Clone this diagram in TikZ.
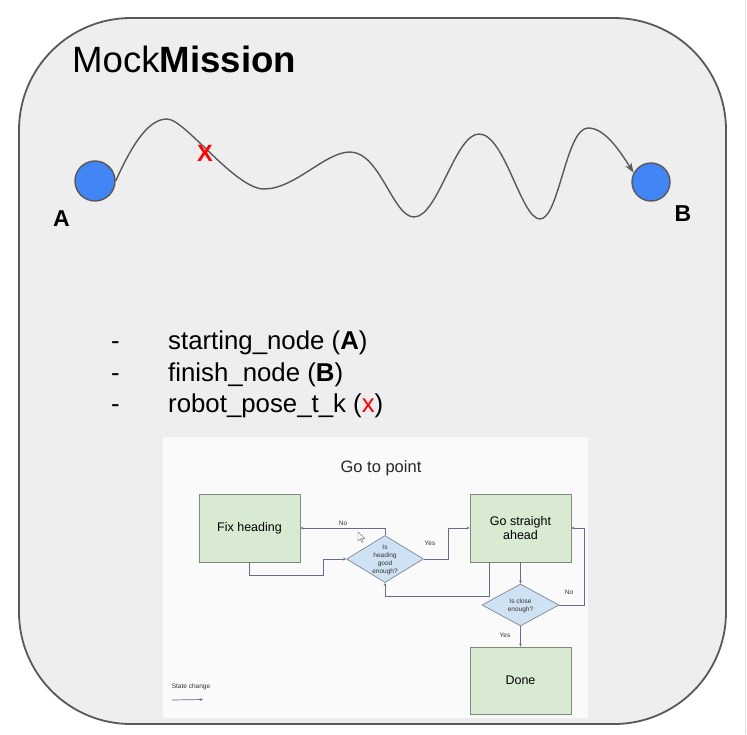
\documentclass[tikz,border=0pt]{standalone}
\usepackage{fontspec}
\setmainfont{Liberation Sans}
\usetikzlibrary{shapes.geometric,arrows.meta,calc}
\definecolor{edge}{HTML}{595959}
\definecolor{panel}{HTML}{EEEEEE}
\definecolor{gblue}{HTML}{4285F4}
\definecolor{boxgreen}{HTML}{D9EAD3}
\definecolor{boxline}{HTML}{7E8A7B}
\definecolor{diablue}{HTML}{CFE2F3}
\definecolor{dialine}{HTML}{7C8896}
\definecolor{connc}{HTML}{6A6A8E}
\definecolor{shotbg}{HTML}{FAFAFA}
\tikzset{
  dot/.style={circle,draw=edge,line width=1.4pt,fill=gblue,inner sep=0pt},
  path curve/.style={draw=edge,line width=1.4pt},
  bigtext/.style={inner sep=0pt,anchor=base west,font=\fontsize{25.8}{30}\selectfont},
  statebox/.style={rectangle,draw=boxline,line width=0.7pt,fill=boxgreen,minimum width=101pt,minimum height=68pt,inner sep=0pt,align=center,font=\fontsize{12.5}{14}\selectfont},
  decision/.style={diamond,draw=dialine,line width=0.7pt,fill=diablue,inner sep=0pt},
  smalltext/.style={inner sep=0pt,align=center,font=\fontsize{6.5}{8.2}\selectfont,text=black!80},
  conn/.style={draw=connc,line width=0.7pt,-{Stealth[length=3pt,width=2.6pt]}},
}
\begin{document}
\begin{tikzpicture}[x=1pt,y=-1pt]
\useasboundingbox (0,0) rectangle (747,734);
\fill[white] (0,0) rectangle (747,734);
\draw[black!12,line width=1pt] (745,0) -- (745,734);
% panel
\draw[draw=edge,fill=panel,line width=1.8pt,rounded corners=112pt] (19,18) rectangle (726,724);
\node[inner sep=0pt,anchor=base west,font=\fontsize{36.6}{40}\selectfont] (title) at (72,72) {Mock\textbf{Mission}};
% path A -> B
\node[dot,minimum size=40pt] (A) at (95,181) {};
\node[dot,minimum size=38pt] (B) at (651,182) {};
\node[inner sep=0pt,anchor=base,font=\bfseries\fontsize{23}{26}\selectfont] (la) at (61.5,226) {A};
\node[inner sep=0pt,anchor=base,font=\bfseries\fontsize{23}{26}\selectfont] (lb) at (683,221) {B};
\coordinate (p1) at (167,119);
\coordinate (p2) at (264,189);
\coordinate (p3) at (350,152);
\coordinate (p4) at (414,217);
\coordinate (p5) at (479,134);
\coordinate (p6) at (540,219);
\coordinate (p7) at (588,128);
\draw[path curve,-{Stealth[length=10pt,width=7pt,inset=3pt]}] (A.east)
  .. controls (134,140) and (150,119) .. (p1)
  .. controls (185,119) and (235,189) .. (p2)
  .. controls (295,189) and (325,152) .. (p3)
  .. controls (380,152) and (393,217) .. (p4)
  .. controls (438,217) and (455,134) .. (p5)
  .. controls (505,134) and (521,219) .. (p6)
  .. controls (559,219) and (566,128) .. (p7)
  .. controls (604,128) and (618,148) .. (B.152);
\node[inner sep=0pt,text=red,font=\bfseries\fontsize{23.5}{25}\selectfont] (xmark) at (205,153.5) {X};
% bullet list
\node[bigtext] (d1dash) at (111,349) {-};
\node[bigtext] (d2dash) at (111,381) {-};
\node[bigtext] (d3dash) at (111,412) {-};
\node[bigtext] (b1) at (168,349) {starting\_node (\textbf{A})};
\node[bigtext] (b2) at (168,381) {finish\_node (\textbf{B})};
\node[bigtext] (b3) at (168,412) {robot\_pose\_t\_k (\textcolor{red}{x})};
% screenshot of flowchart
\fill[shotbg] (163,437) rectangle (588,718);
\node[inner sep=0pt,font=\fontsize{16.5}{18}\selectfont,text=black!85] (fctitle) at (381,468) {Go to point};
\node[statebox] (fix) at (249.5,528) {Fix heading};
\node[statebox] (go) at (520.5,528) {Go straight\\ahead};
\node[statebox,minimum height=67pt] (done) at (520.5,680.5) {Done};
\node[decision,minimum width=77pt,minimum height=47pt] (q1) at (385,559) {};
\node[smalltext] (q1t) at (385,560) {Is\\heading\\good\\enough?};
\node[decision,minimum width=77pt,minimum height=42pt] (q2) at (520.5,605) {};
\node[smalltext] (q2t) at (520.5,605.5) {Is close\\enough?};
\draw[conn] (q1.north) |- (fix.east);
\draw[conn] (fix.south) -- ++(0,13) -| ($(q1.west)+(-23,0)$) -- (q1.west);
\draw[conn] (q1.east) -- ++(24,0) |- (go.west);
\draw[conn] ([xshift=-31.5pt]go.south) -- ++(0,34) -| (q1.south);
\draw[conn] (go.south) -- (q2.north);
\draw[conn] (q2.east) -- ++(25,0) |- (go.east);
\draw[conn] (q2.south) -- (done.north);
\node[smalltext] (no1) at (343,523) {No};
\node[smalltext] (yes1) at (430,543) {Yes};
\node[smalltext] (no2) at (569,592) {No};
\node[smalltext] (yes2) at (505,635) {Yes};
\node[smalltext] (legend) at (191,687) {State change};
\coordinate (lg1) at (172,700);
\coordinate (lg2) at (203,699.5);
\draw[conn] (lg1) -- (lg2);
% mouse cursor
\draw[draw=black!60,fill=white,line width=0.4pt] (358,532) -- (358,541) -- (360.3,538.8) -- (361.8,542.3) -- (363.2,541.7) -- (361.7,538.3) -- (364.8,538.3) -- cycle;
\end{tikzpicture}
\end{document}
